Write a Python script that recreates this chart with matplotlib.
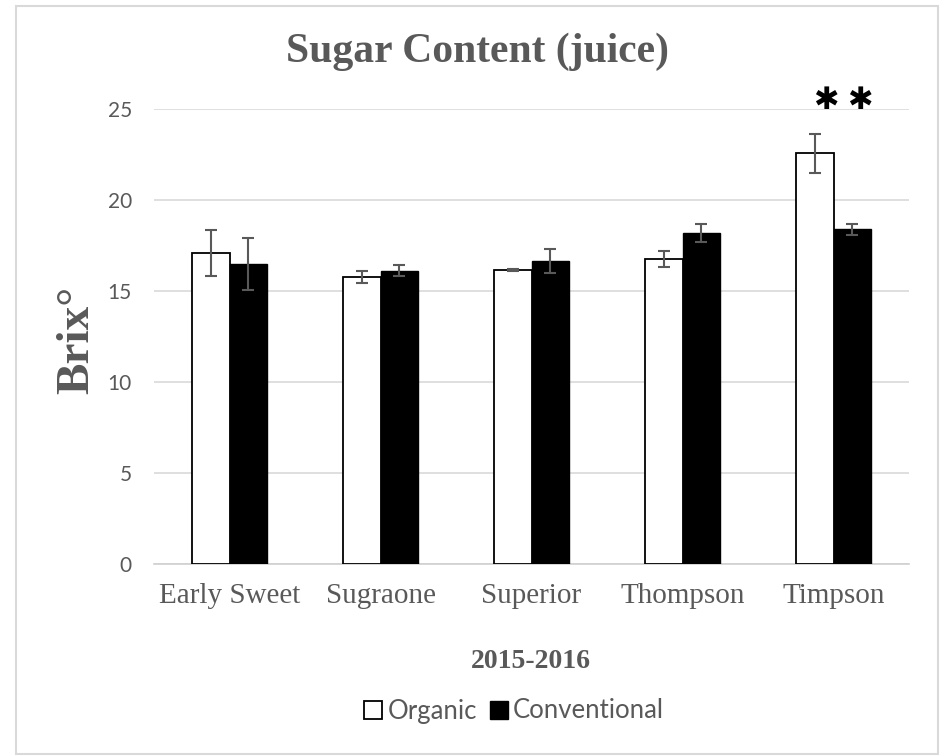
import matplotlib
matplotlib.use("Agg")
import matplotlib.pyplot as plt
import numpy as np
from matplotlib.patches import Rectangle

categories = ["Early Sweet", "Sugraone", "Superior", "Thompson", "Timpson"]
organic = [17.09, 15.78, 16.16, 16.77, 22.55]
organic_err = [1.27, 0.33, 0.05, 0.44, 1.06]
conventional = [16.46, 16.11, 16.62, 18.18, 18.38]
conventional_err = [1.42, 0.32, 0.65, 0.50, 0.30]
yticks = [0, 5, 10, 15, 20, 25]

GRAY = "#595959"
W, H = 942, 756
fig = plt.figure(figsize=(W / 100, H / 100), dpi=100)
ax = fig.add_axes([154 / W, 1 - 564 / H, (909 - 154) / W, (564 - 108.7) / H])

x = np.arange(len(categories))
bw = 0.25
ax.bar(x - bw / 2, organic, bw, color="white", edgecolor="black", linewidth=1.3, zorder=3,
       label="Organic")
ax.bar(x + bw / 2, conventional, bw, color="black", edgecolor="black", linewidth=1.0, zorder=3,
       label="Conventional")
ax.errorbar(x - bw / 2, organic, yerr=organic_err, fmt="none", ecolor=GRAY, elinewidth=1.5,
            capsize=4.5, capthick=1.5, zorder=4)
ax.errorbar(x + bw / 2, conventional, yerr=conventional_err, fmt="none", ecolor=GRAY,
            elinewidth=1.5, capsize=4.5, capthick=1.5, zorder=4)

ax.set_xlim(-0.5, len(categories) - 0.5)
ax.set_ylim(0, 25)
ax.set_yticks(yticks)
ax.set_xticks(x)
ax.set_xticklabels(categories, fontfamily="Liberation Serif", fontsize=21, color=GRAY)
for lab in ax.get_yticklabels():
    lab.set_fontfamily("Lato")
    lab.set_fontsize(15)
    lab.set_color(GRAY)
ax.tick_params(axis="both", length=0)
ax.tick_params(axis="y", pad=16)
ax.tick_params(axis="x", pad=14)
ax.yaxis.grid(True, color="#d9d9d9", linewidth=1.2, zorder=0)
ax.set_axisbelow(True)
for s in ["top", "right", "left"]:
    ax.spines[s].set_visible(False)
ax.spines["bottom"].set_color("#d0d0d0")
ax.spines["bottom"].set_linewidth(1.2)

# significance asterisks
ax.text(4 - 0.05, 25.45, "✱", fontfamily="DejaVu Sans", fontsize=22, fontweight="bold",
        ha="center", va="center", color="black", clip_on=False)
ax.text(4 + 0.175, 25.45, "✱", fontfamily="DejaVu Sans", fontsize=22, fontweight="bold",
        ha="center", va="center", color="black", clip_on=False)

fig.text(477 / W, 1 - 52 / H, "Sugar Content (juice)", fontfamily="Liberation Serif",
         fontsize=30, fontweight="bold", color=GRAY, ha="center", va="center")
fig.text(77 / W, 1 - 340 / H, "Brix°", fontfamily="Liberation Serif", fontsize=34,
         fontweight="bold", color=GRAY, ha="center", va="center", rotation=90)
fig.text(531 / W, 1 - 661 / H, "2015-2016", fontfamily="Liberation Serif", fontsize=20,
         fontweight="bold", color=GRAY, ha="center", va="center")

leg = fig.legend(loc="center", bbox_to_anchor=(514 / W, 1 - 711 / H), ncol=2, frameon=False,
                 prop={"family": "Lato", "size": 18.5}, handlelength=0.7, handleheight=0.7,
                 handletextpad=0.2, columnspacing=0.5, labelcolor=GRAY)

fig.patches.append(Rectangle((16 / W, 1 - 754 / H), (938 - 16) / W, (754 - 6) / H,
                             transform=fig.transFigure, fill=False, edgecolor="#d9d9d9",
                             linewidth=1.5))

fig.savefig("out.png", dpi=100)
